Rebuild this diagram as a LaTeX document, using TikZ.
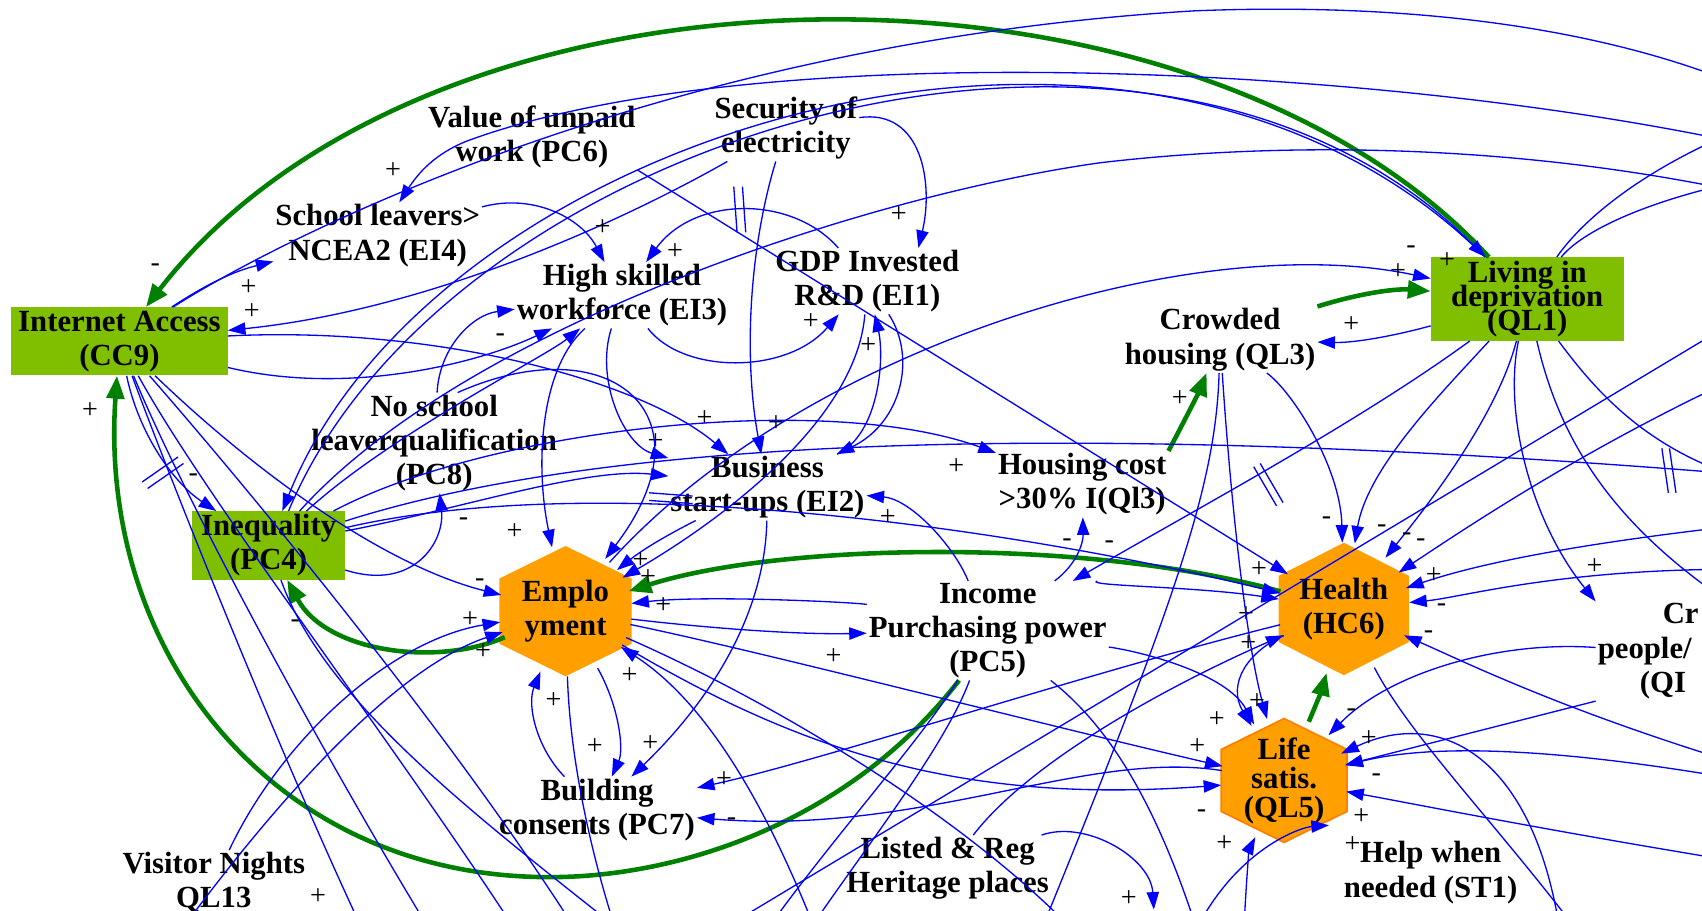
\documentclass[tikz,border=0pt]{standalone}
\usepackage{fontspec}
\setmainfont{Liberation Serif}
\usetikzlibrary{arrows.meta,shapes.geometric}

\definecolor{boxgreen}{RGB}{127,191,0}
\definecolor{hexfill}{RGB}{255,160,0}
\definecolor{hexline}{RGB}{255,127,0}
\definecolor{linkblue}{RGB}{0,0,255}
\definecolor{loopgreen}{RGB}{0,128,0}

\tikzset{
  var/.style={align=center, inner sep=1pt, font=\bfseries\fontsize{17.5}{19.5}\selectfont},
  gbox/.style={var, fill=boxgreen},
  hex/.style={fill=hexfill},
  link/.style={draw=linkblue, line width=0.75pt, -{Triangle[length=10pt,width=7pt]}},
  loop link/.style={draw=loopgreen, line width=2.6pt, -{Triangle[length=13pt,width=10pt]}},
  sgn/.style={font=\fontsize{16}{16}\selectfont, inner sep=0pt},
  delay/.style={draw=linkblue, line width=0.75pt}
}

\newcommand{\pxu}{0.6154pt}
% hexagon: [path style]{name}{x}{y}{half width}{half height}{text}
\newcommand{\hexnode}[7][]{%
  \path[hex,#1] (#3,#4-#6) -- (#3+#5,#4-#6/2) -- (#3+#5,#4+#6/2) -- (#3,#4+#6)
    -- (#3-#5,#4+#6/2) -- (#3-#5,#4-#6/2) -- cycle;
  \node[var, ellipse, minimum width=2*#5*\pxu, minimum height=2*#6*\pxu] (#2) at (#3,#4) {#7};
}

\begin{document}
\begin{tikzpicture}[x=0.2171mm, y=-0.2171mm]
\useasboundingbox (0,0) rectangle (1568,839);
\clip (0,0) rectangle (1568,839);

% variables
\node[gbox, minimum width=200*\pxu, minimum height=63*\pxu] (cc9) at (110,314.5) {Internet Access\\(CC9)};
\node[var] (pc6) at (490,126) {Value of unpaid\\work (PC6)};
\node[var] (sec) at (724,118) {Security of\\electricity};
\node[var] (ei4) at (348,217) {School leavers>\\NCEA2 (EI4)};
\node[var] (ei3) at (573,272) {High skilled\\workforce (EI3)};
\node[var] (ei1) at (799,259) {GDP Invested\\R\&D (EI1)};
\node[gbox, minimum width=178*\pxu, minimum height=77*\pxu] (ql1) at (1407,275.5) {Living in\\[-5.7pt]deprivation\\[-5.7pt](QL1)};
\node[var] (ql3) at (1124,313) {Crowded\\housing (QL3)};
\node[var] (pc8) at (400,408) {No school\\leaverqualification\\(PC8)};
\node[gbox, minimum width=141*\pxu, minimum height=63*\pxu] (pc4) at (247.5,502.5) {Inequality\\(PC4)};
\hexnode{emp}{521}{563}{61}{60}{Emplo\\yment}
\node[var] (ei2) at (707,449) {Business\\start-ups (EI2)};
\node[var] (hcost) at (997,446) {Housing cost\\>30\% I(Ql3)};
\node[var] (pc5) at (910,581) {Income\\Purchasing power\\(PC5)};
\hexnode{hc6}{1238}{561}{60}{61}{Health\\(HC6)}
\hexnode[draw=hexline, line width=1pt]{ql5}{1183}{719}{58}{57}{Life\\[-3pt]satis.\\[-3pt](QL5)}
\node[var] (pc7) at (550,746) {Building\\consents (PC7)};
\node[var] (heri) at (873,800) {Listed \& Reg\\Heritage places};
\node[var] (st1) at (1318,804) {Help when\\needed (ST1)};
\node[var] (ql13) at (197,813) {Visitor Nights\\QL13};
\node[var, align=left, anchor=west] (crime) at (1470,600) {\hspace{37pt}Cr\\people/\\\hspace{24pt}(QI};

% ends outside the frame
\coordinate (rTopA) at (1640,95);
\coordinate (rTopB) at (1640,140);
\coordinate (rUpA) at (1640,105);
\coordinate (rUpB) at (1640,160);
\coordinate (rLong) at (1640,185);
\coordinate (rDiag) at (1640,271);
\coordinate (rHa) at (1640,330);
\coordinate (rMid) at (1640,440);
\coordinate (rDel) at (1640,450);
\coordinate (rHb) at (1640,480);
\coordinate (rHc) at (1640,525);
\coordinate (rLow) at (1640,585);
\coordinate (rHd) at (1640,715);
\coordinate (rQa) at (1640,725);
\coordinate (rQb) at (1640,800);
\coordinate (bVis) at (150,880);
\coordinate (bA) at (345,880);
\coordinate (bB) at (410,880);
\coordinate (bC) at (490,880);
\coordinate (bD) at (545,880);
\coordinate (bE) at (600,880);
\coordinate (bF) at (575,880);
\coordinate (bN) at (592,900);
\coordinate (bO) at (690,880);
\coordinate (bP) at (730,880);
\coordinate (bS) at (760,880);
\coordinate (bI) at (950,880);
\coordinate (bR) at (1010,880);
\coordinate (bH) at (1063,838);
\coordinate (bK) at (1100,860);
\coordinate (bQ) at (1110,880);
\coordinate (bL) at (1145,880);
\coordinate (bJ) at (1440,880);
\coordinate (bM) at (1470,880);

% main loops
\draw[loop link] (ql1) .. controls (1100,-60) and (400,-60) .. (cc9) node[sgn] at (143,247) {-};
\draw[loop link] (ql3.north east) .. controls (1260,268) and (1290,266) .. (ql1) node[sgn] at (1300,230) {-};
\draw[loop link] (hcost.north east) .. controls (1090,390) and (1105,360) .. (ql3) node[sgn] at (1087,367) {+};
\draw[loop link] (hc6) .. controls (1000,495) and (720,500) .. (emp);
\draw[loop link] (emp) .. controls (400,615) and (300,600) .. (pc4) node[sgn] at (272,575) {-};
\draw[loop link] (pc5.240) .. controls (780,760) and (620,810) .. (500,808) .. controls (250,805) and (90,600) .. (cc9) node[sgn] at (83,378) {+};
\draw[loop link] (ql5) .. controls (1212,650) and (1218,635) .. (hc6);

% links
\draw[link] (cc9) .. controls (190,262) and (215,250) .. (ei4) node[sgn] at (229,265) {+};
\draw[link] (cc9) .. controls (250,225) and (600,40) .. (1100,10) .. controls (1350,0) and (1520,40) .. (rTopA);
\draw[link] (rTopB) .. controls (1300,60) and (700,30) .. (430,130) .. controls (400,142) and (385,160) .. (ei4) node[sgn] at (362,157) {+};
\draw[link] (sec) .. controls (580,200) and (400,285) .. (cc9) node[sgn] at (232,287) {+};
\draw[link] (cc9) .. controls (400,300) and (590,350) .. (ei2) node[sgn] at (649,386) {+};
\draw[link] (cc9) .. controls (320,365) and (440,335) .. (ei3) node[sgn] at (461,311) {-};
\draw[link] (cc9) .. controls (128,400) and (160,445) .. (pc4) node[sgn] at (178,440) {-};
\draw[link] (cc9) .. controls (160,450) and (260,700) .. (bA);
\draw[link] (cc9) .. controls (170,460) and (300,700) .. (bB);
\draw[link] (cc9) .. controls (190,460) and (360,680) .. (bC) node[sgn] at (293,826) {+};
\draw[link] (cc9) .. controls (220,440) and (420,680) .. (bD);
\draw[link] (cc9) .. controls (230,430) and (350,520) .. (emp) node[sgn] at (442,537) {-};
\draw[link] (ql1) .. controls (1050,-80) and (400,120) .. (pc4);
\draw[link] (pc4.60) .. controls (410,125) and (1060,-72) .. (ql1) node[sgn] at (1333,240) {+};
\draw[link] (pc4) .. controls (430,300) and (800,180) .. (1013,150) .. controls (1200,128) and (1420,135) .. (rLong);
\draw[link] (emp) .. controls (740,320) and (1100,210) .. (ql1) node[sgn] at (1288,250) {+};
\draw[link] (ql1) .. controls (1290,308) and (1250,316) .. (ql3) node[sgn] at (1245,299) {+};
\draw[link] (ei4) .. controls (490,178) and (535,200) .. (ei3) node[sgn] at (555,210) {+};
\draw[link] (ei1) .. controls (730,180) and (640,180) .. (ei3) node[sgn] at (622,232) {+};
\draw[link] (ei3) .. controls (630,345) and (725,345) .. (ei1) node[sgn] at (747,296) {+};
\draw[link] (sec) .. controls (850,100) and (860,170) .. (ei1.33) node[sgn] at (828,198) {+};
\draw[link] (sec) .. controls (690,230) and (685,330) .. (ei2) node[sgn] at (715,390) {+};
\draw[link] (pc6.south east) -- (hc6) node[sgn] at (1160,525) {+};
\draw[link] (ei1) .. controls (790,380) and (680,470) .. (emp);
\draw[link] (ei2) .. controls (640,480) and (600,500) .. (emp) node[sgn] at (590,516) {+};
\draw[link] (ei3) .. controls (497,340) and (493,430) .. (emp) node[sgn] at (474,490) {+};
\draw[link] (ei3) .. controls (548,350) and (575,410) .. (ei2) node[sgn] at (604,407) {+};
\draw[link] (pc4) .. controls (360,400) and (500,330) .. (ei3);
\draw[link] (pc8) .. controls (405,320) and (435,290) .. (ei3);
\draw[link] (pc8.65) .. controls (560,300) and (660,380) .. (emp) node[sgn] at (597,532) {+};
\draw[link] (pc4) .. controls (380,545) and (410,500) .. (pc8) node[sgn] at (427,481) {-};
\draw[link] (pc4) .. controls (450,395) and (760,360) .. (hcost) node[sgn] at (881,430) {+};
\draw[link] (pc4) .. controls (420,470) and (540,430) .. (ei2);
\draw[link] (pc4) .. controls (600,390) and (1100,395) .. (rMid);
\draw[link] (pc4) .. controls (560,430) and (950,490) .. (hc6) node[sgn] at (1148,566) {+};
\draw[link] (pc4) .. controls (300,650) and (450,760) .. (bE);
\draw[link] (emp) .. controls (620,575) and (720,585) .. (pc5) node[sgn] at (768,605) {+};
\draw[link] (pc5) .. controls (790,555) and (650,548) .. (emp) node[sgn] at (611,558) {+};
\draw[link] (emp) .. controls (570,650) and (575,690) .. (pc7) node[sgn] at (548,688) {+};
\draw[link] (ei2) .. controls (705,560) and (660,640) .. (pc7) node[sgn] at (599,685) {+};
\draw[link] (pc7) .. controls (495,690) and (485,650) .. (emp) node[sgn] at (510,645) {+};
\draw[link] (emp) .. controls (525,700) and (545,790) .. (bF);
\draw[link] (emp) .. controls (700,600) and (950,665) .. (ql5) node[sgn] at (1103,688) {+};
\draw[link] (emp) .. controls (750,700) and (900,740) .. (ql5) node[sgn] at (1107,750) {-};
\draw[link] (ql13) .. controls (260,680) and (360,590) .. (emp) node[sgn] at (433,571) {+};
\draw[link] (bVis) .. controls (280,700) and (380,610) .. (emp) node[sgn] at (445,600) {+};
\draw[link] (bS) .. controls (700,720) and (640,640) .. (emp) node[sgn] at (580,622) {+};
\draw[link] (emp) .. controls (720,650) and (900,760) .. (bR);
\draw[link] (hc6) .. controls (1000,620) and (760,700) .. (pc7) node[sgn] at (667,718) {+};
\draw[link] (ql5) .. controls (1000,690) and (850,770) .. (pc7) node[sgn] at (674,757) {-};
\draw[link] (heri) .. controls (1000,755) and (1060,790) .. (bH) node[sgn] at (1040,828) {+};
\draw[link] (heri) .. controls (950,700) and (1080,630) .. (hc6) node[sgn] at (1150,593) {+};
\draw[link] (pc5) .. controls (1000,540) and (1100,540) .. (hc6);
\draw[link] (ql1) .. controls (1250,390) and (1100,470) .. (pc5) node[sgn] at (1022,502) {-};
\draw[link] (pc5) .. controls (992,520) and (998,500) .. (hcost) node[sgn] at (983,500) {-};
\draw[link] (ei1) .. controls (845,330) and (830,390) .. (ei2);
\draw[link] (ei2) .. controls (810,400) and (815,330) .. (ei1) node[sgn] at (800,318) {+};
\draw[link] (pc5) .. controls (880,505) and (840,460) .. (ei2) node[sgn] at (818,477) {+};
\draw[link] (pc5) .. controls (850,680) and (760,780) .. (bO);
\draw[link] (pc5) .. controls (870,690) and (790,790) .. (bP);
\draw[link] (pc5) .. controls (1010,660) and (1060,720) .. (bQ);
\draw[link] (ql1) .. controls (1385,380) and (1410,480) .. (crime.north west) node[sgn] at (1469,522) {+};
\draw[link] (ql3) .. controls (1135,480) and (1150,600) .. (ql5) node[sgn] at (1158,646) {+};
\draw[link] (ql3) .. controls (1190,360) and (1235,430) .. (hc6) node[sgn] at (1222,480) {-};
\draw[link] (ql1) .. controls (1330,360) and (1260,430) .. (hc6) node[sgn] at (1273,487) {-};
\draw[link] (ql1) .. controls (1380,380) and (1320,460) .. (hc6) node[sgn] at (1296,494) {-};
\draw[link] (ql3) .. controls (1120,450) and (1080,560) .. (bI);
\draw[link] (hc6) .. controls (1150,600) and (1130,630) .. (ql5) node[sgn] at (1121,663) {+};
\draw[link] (pc5) .. controls (1050,600) and (1130,620) .. (ql5);
\draw[link] (crime) .. controls (1380,590) and (1280,620) .. (ql5) node[sgn] at (1245,657) {-};
\draw[link] (crime.south west) -- (ql5) node[sgn] at (1254,752) {+};
\draw[link] (bJ) .. controls (1420,700) and (1330,650) .. (ql5) node[sgn] at (1261,680) {+};
\draw[link] (rQa) .. controls (1400,680) and (1300,690) .. (ql5) node[sgn] at (1268,716) {-};
\draw[link] (rQb) .. controls (1450,770) and (1300,740) .. (ql5);
\draw[link] (bK) .. controls (1140,780) and (1200,762) .. (ql5.-45) node[sgn] at (1246,778) {+};
\draw[link] (bL) .. controls (1148,800) and (1152,780) .. (ql5) node[sgn] at (1128,777) {+};
\draw[link] (hc6) .. controls (1300,680) and (1380,760) .. (bM);
\draw[link] (rHa) .. controls (1480,400) and (1360,480) .. (hc6) node[sgn] at (1309,500) {-};
\draw[link] (rHb) .. controls (1450,500) and (1360,520) .. (hc6) node[sgn] at (1321,530) {+};
\draw[link] (rHc) .. controls (1450,520) and (1350,550) .. (hc6) node[sgn] at (1328,560) {-};
\draw[link] (rHd) .. controls (1450,660) and (1350,610) .. (hc6) node[sgn] at (1316,585) {-};
\draw[link] (ql1) .. controls (1460,200) and (1520,150) .. (rUpA);
\draw[link] (ql1) .. controls (1460,210) and (1530,180) .. (rUpB);
\draw[link] (ql1) .. controls (1470,360) and (1520,420) .. (rDel);
\draw[link] (ql1) .. controls (1440,420) and (1500,500) .. (rLow);
\draw[link] (rDiag) -- (bN);

% delay marks
\draw[delay] (131,444) -- (164,421);
\draw[delay] (136,450) -- (169,427);
\draw[delay] (676,172) -- (679,214);
\draw[delay] (684,172) -- (687,214);
\draw[delay] (598,454) -- (638,457);
\draw[delay] (598,461) -- (638,464);
\draw[delay] (1155,430) -- (1176,466);
\draw[delay] (1161,427) -- (1182,463);
\draw[delay] (1531,413) -- (1537,454);
\draw[delay] (1538,413) -- (1544,454);
\end{tikzpicture}
\end{document}
